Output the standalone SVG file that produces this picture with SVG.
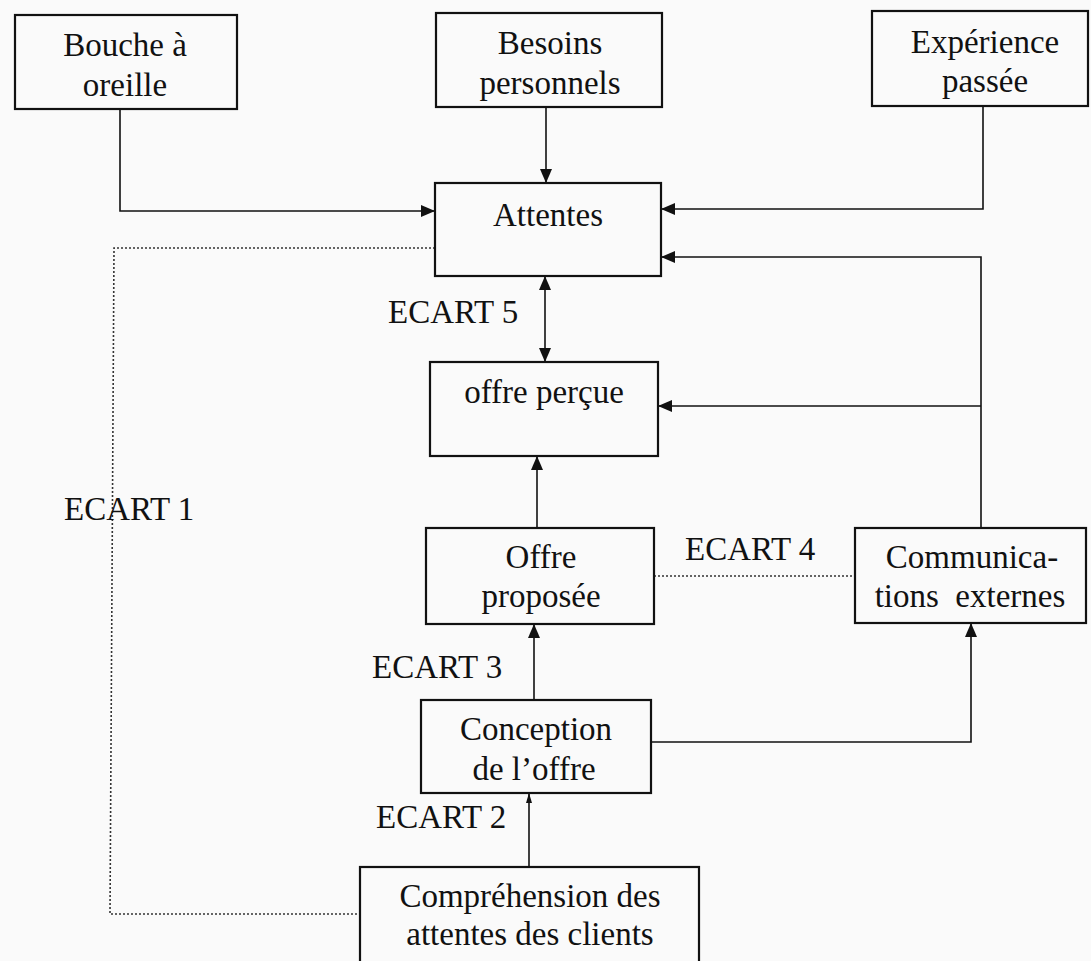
<svg xmlns="http://www.w3.org/2000/svg" width="1091" height="961" viewBox="0 0 1091 961">
<defs>
<style>
.box{fill:none;stroke:#111;stroke-width:2.2}
.t{font-family:"Liberation Serif","Times New Roman",serif;font-size:33px;fill:#111;text-anchor:middle}
.l{font-family:"Liberation Serif","Times New Roman",serif;font-size:33px;fill:#111}
.c{fill:none;stroke:#111;stroke-width:1.6}
.d{fill:none;stroke:#333;stroke-width:1.6;stroke-dasharray:2 2}
</style>
<marker id="ah" viewBox="0 0 14 12" refX="14" refY="6" markerWidth="14" markerHeight="12" markerUnits="userSpaceOnUse" orient="auto-start-reverse">
<path d="M0,0 L14,6 L0,12 Z" fill="#111"/>
</marker>
<marker id="ahs" viewBox="0 0 10 6" refX="10" refY="3" markerWidth="10" markerHeight="6" markerUnits="userSpaceOnUse" orient="auto">
<path d="M0,0 L10,3 L0,6 Z" fill="#111"/>
</marker>
</defs>
<rect width="1091" height="961" fill="#fafafa"/>
<g id="connectors">
<polyline class="c" points="120,109 120,211 435,211" marker-end="url(#ah)"/>
<line class="c" x1="546" y1="107" x2="546" y2="183" marker-end="url(#ah)"/>
<polyline class="c" points="983,106 983,209 661,209" marker-end="url(#ah)"/>
<polyline class="c" points="981,528 981,257 661,257" marker-end="url(#ah)"/>
<line class="c" x1="981" y1="406" x2="658" y2="406" marker-end="url(#ah)"/>
<line class="c" x1="545" y1="276" x2="545" y2="362" marker-start="url(#ah)" marker-end="url(#ah)"/>
<line class="c" x1="537" y1="528" x2="537" y2="456" marker-end="url(#ah)"/>
<line class="c" x1="534" y1="699" x2="534" y2="624" marker-end="url(#ah)"/>
<polyline class="c" points="651,742 971,742 971,623" marker-end="url(#ah)"/>
<line class="c" x1="529" y1="867" x2="529" y2="793" marker-end="url(#ahs)"/>
<polyline class="d" points="435,248 114,248 110,914 360,914"/>
<line class="d" x1="654" y1="576" x2="855" y2="576"/>
</g>
<g id="bouche"><rect class="box" x="15" y="15" width="222" height="94"/>
<text class="t" x="125" y="56">Bouche à</text><text class="t" x="125" y="96">oreille</text></g>
<g id="besoins"><rect class="box" x="436" y="13" width="226" height="94"/>
<text class="t" x="550" y="54">Besoins</text><text class="t" x="550" y="94">personnels</text></g>
<g id="experience"><rect class="box" x="872" y="11" width="216" height="95"/>
<text class="t" x="985" y="53">Expérience</text><text class="t" x="985" y="92">passée</text></g>
<g id="attentes"><rect class="box" x="435" y="183" width="226" height="93"/>
<text class="t" x="548" y="226">Attentes</text></g>
<g id="offre-percue"><rect class="box" x="430" y="362" width="228" height="94"/>
<text class="t" x="544" y="403">offre perçue</text></g>
<g id="offre-proposee"><rect class="box" x="426" y="528" width="228" height="96"/>
<text class="t" x="541" y="568">Offre</text><text class="t" x="541" y="607">proposée</text></g>
<g id="communications"><rect class="box" x="855" y="528" width="231" height="95"/>
<text class="t" x="972" y="568">Communica-</text><text class="t" x="970" y="607">tions&#160; externes</text></g>
<g id="conception"><rect class="box" x="421" y="700" width="230" height="93"/>
<text class="t" x="536" y="740">Conception</text><text class="t" x="534" y="780">de l’offre</text></g>
<g id="comprehension"><rect class="box" x="360" y="867" width="339" height="100"/>
<text class="t" x="530" y="907">Compréhension des</text><text class="t" x="530" y="945">attentes des clients</text></g>
<g id="labels">
<text class="l" x="388" y="323">ECART 5</text>
<text class="l" x="64" y="520">ECART 1</text>
<text class="l" x="685" y="560">ECART 4</text>
<text class="l" x="372" y="678">ECART 3</text>
<text class="l" x="376" y="828">ECART 2</text>
</g>
</svg>
